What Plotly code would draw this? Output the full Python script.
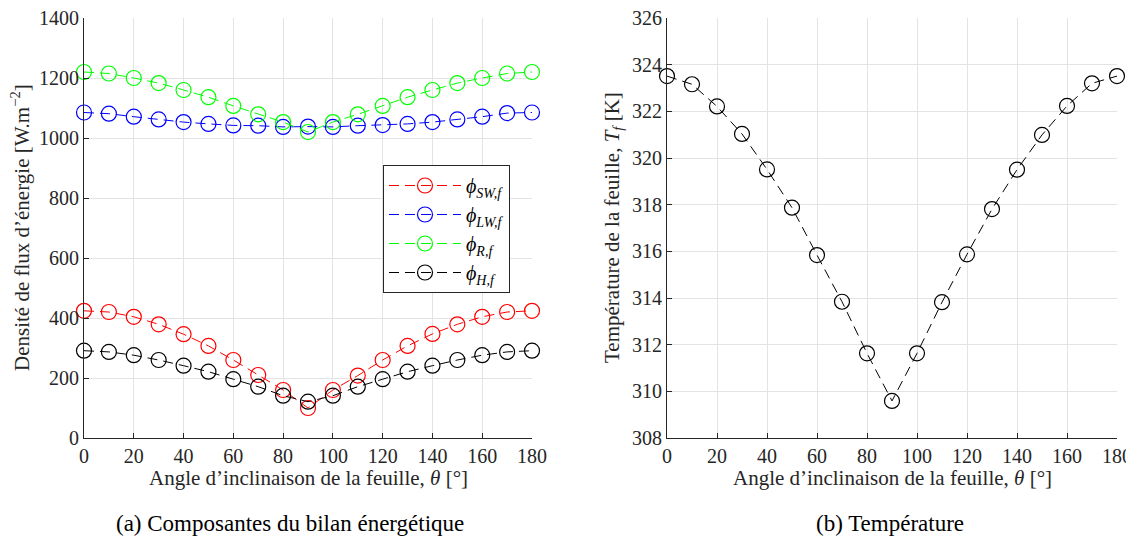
import plotly.graph_objects as go

angles = [0, 10, 20, 30, 40, 50, 60, 70, 80, 90, 100, 110, 120, 130, 140, 150, 160, 170, 180]
phi_sw = [424, 420, 404, 379, 346, 307, 260, 210, 160, 100, 160, 208, 260, 307, 347, 379, 404, 420, 424]
phi_lw = [1085, 1081, 1071, 1062, 1053, 1047, 1042, 1041, 1037, 1038, 1037, 1041, 1043, 1047, 1053, 1062, 1071, 1083, 1085]
phi_r = [1220, 1215, 1200, 1183, 1160, 1136, 1107, 1079, 1053, 1020, 1053, 1079, 1107, 1136, 1160, 1183, 1200, 1215, 1220]
phi_h = [291, 287, 276, 260, 241, 221, 196, 171, 141, 121, 141, 171, 196, 221, 241, 260, 276, 287, 291]
temp = [323.51, 323.16, 322.21, 321.03, 319.51, 317.87, 315.84, 313.84, 311.63, 309.59,
        311.63, 313.82, 315.87, 317.81, 319.5, 320.99, 322.23, 323.2, 323.51]

series = [
    (phi_sw, "#ff0000", "<i>ϕ</i><sub><i>SW,f</i></sub>"),
    (phi_lw, "#0000ff", "<i>ϕ</i><sub><i>LW,f</i></sub>"),
    (phi_r, "#00ff00", "<i>ϕ</i><sub><i>R,f</i></sub>"),
    (phi_h, "#000000", "<i>ϕ</i><sub><i>H,f</i></sub>"),
]

FONT = "Liberation Serif"
TXT = "#262626"
fig = go.Figure()
for vals, col, name in series:
    fig.add_trace(go.Scatter(
        x=angles, y=vals, mode="lines+markers", name=name,
        line=dict(color=col, width=1, dash="10px,6px"),
        marker=dict(symbol="circle-open", size=15, color=col, line=dict(width=1.2, color=col)),
        cliponaxis=False, xaxis="x", yaxis="y",
    ))

fig.add_trace(go.Scatter(
    x=angles, y=temp, mode="lines+markers", showlegend=False,
    line=dict(color="#000000", width=1, dash="10px,6px"),
    marker=dict(symbol="circle-open", size=15, color="#000000", line=dict(width=1.2, color="#000000")),
    cliponaxis=False, xaxis="x2", yaxis="y2",
))

axis_common = dict(
    showgrid=True, gridcolor="#e3e3e3", gridwidth=1,
    showline=True, linecolor=TXT, linewidth=1,
    ticks="inside", ticklen=5, tickcolor=TXT,
    tickfont=dict(family=FONT, size=20, color=TXT),
    ticklabeloverflow="allow",
    zeroline=False, mirror=False, automargin=False,
)

xticks = [0, 20, 40, 60, 80, 100, 120, 140, 160, 180]
xtitle = "Angle d’inclinaison de la feuille, <i>θ</i> [°]"
OFF = 8  # page body margin
W, H = 1134 - OFF, 537 - OFF
L = 84 - OFF
T = 18 - OFF
R = W - (1117 - OFF)
B = H - (438 - OFF)
PW, PH = W - L - R, H - T - B


def px(x):
    return (x - OFF - L) / PW


def py(y):
    return (H - B - (y - OFF)) / PH


title_font = dict(family=FONT, size=21, color=TXT)
cap_font = dict(family=FONT, size=23, color="#000000")

fig.update_layout(
    width=W, height=H,
    margin=dict(l=L, r=R, t=T, b=B),
    paper_bgcolor="white", plot_bgcolor="white",
    font=dict(family=FONT, color=TXT),
    xaxis=dict(domain=[0, px(532)], range=[0, 180], tickvals=xticks, anchor="y", **axis_common),
    yaxis=dict(domain=[0, 1], range=[0, 1400], tickvals=list(range(0, 1401, 200)), anchor="x", **axis_common),
    xaxis2=dict(domain=[px(667), 1], range=[0, 180], tickvals=xticks, anchor="y2", **axis_common),
    yaxis2=dict(domain=[0, 1], range=[308, 326], tickvals=list(range(308, 327, 2)), anchor="x2", **axis_common),
    legend=dict(x=px(383), y=py(165), xanchor="left", yanchor="top",
                bgcolor="white", bordercolor=TXT, borderwidth=1,
                font=dict(family=FONT, size=20, color="#000000"),
                itemwidth=72, tracegroupgap=6),
    annotations=[
        dict(text=xtitle, x=px(308), y=py(478), xref="paper", yref="paper", showarrow=False,
             xanchor="center", yanchor="middle", font=title_font),
        dict(text=xtitle, x=px(892), y=py(478), xref="paper", yref="paper", showarrow=False,
             xanchor="center", yanchor="middle", font=title_font),
        dict(text="Densité de flux d’énergie [W.m<sup>−2</sup>]", x=px(20), y=py(228), xref="paper", yref="paper",
             showarrow=False, xanchor="center", yanchor="middle", textangle=-90, font=title_font),
        dict(text="Température de la feuille, <i>T</i><sub><i>f</i></sub> [K]", x=px(613), y=py(228), xref="paper",
             yref="paper", showarrow=False, xanchor="center", yanchor="middle", textangle=-90, font=title_font),
        dict(text="(a) Composantes du bilan énergétique", x=px(290), y=py(523),
             xref="paper", yref="paper", showarrow=False, xanchor="center", yanchor="middle", font=cap_font),
        dict(text="(b) Température", x=px(890), y=py(523),
             xref="paper", yref="paper", showarrow=False, xanchor="center", yanchor="middle", font=cap_font),
    ],
)

fig.write_html("out.html")
